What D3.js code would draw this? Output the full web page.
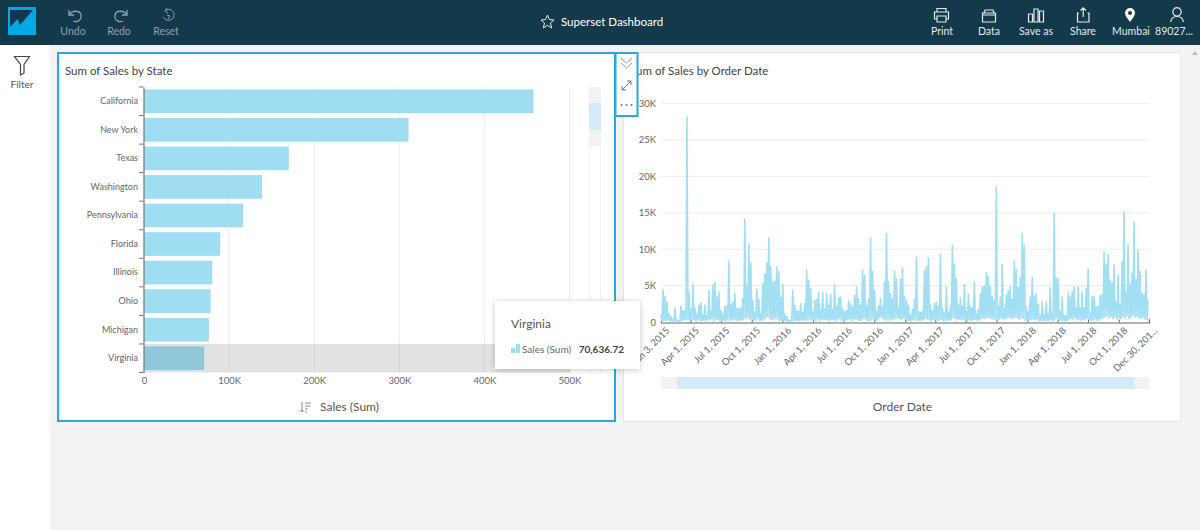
<!DOCTYPE html>
<html>
<head>
<meta charset="utf-8">
<script src="https://d3js.org/d3.v7.min.js"></script>
<style>
    html, body { margin: 0; padding: 0; background: #f3f3f3; overflow: hidden; }
    text { font-family: Lato, "Open Sans", sans-serif; }
</style>
</head>
<body>
<div id="chart-container"></div>
<script>
// Bar chart data
const states = ["California", "New York", "Texas", "Washington", "Pennsylvania", "Florida", "Illinois", "Ohio", "Michigan", "Virginia"];
const stateSales = [457688, 310876, 170188, 138641, 116512, 89474, 80166, 78258, 76270, 70637];
const salesTicks = [0, 100000, 200000, 300000, 400000, 500000];
const hoveredState = "Virginia";

// Line chart data, sales in thousands: a peak then a trough, running along the axis
const salesPeaksK = [
    1.0,4.5,3.6,2.8,1.2,.8,.4,2.0,.3,.2,2.2,1.6,1.6,28.2,4.2,1.8,5.3,2.0,1.2,2.4,
    2.7,1.0,2.4,1.0,4.4,1.6,5.2,5.5,3.5,4.2,1.6,1.2,2.2,2.3,8.4,2.5,2.8,4.0,1.9,1.9,
    2.0,3.3,14.2,5.0,10.7,8.2,3.0,1.5,4.6,3.2,1.2,5.4,6.7,8.2,11.6,7.7,5.6,5.7,7.7,7.0,
    3.5,5.3,
    1.2,.8,.3,.3,4.4,2.4,1.6,1.5,2.6,1.4,2.6,7.2,5.8,4.7,1.5,3.0,3.2,4.2,1.8,4.1,
    1.9,4.0,2.4,3.9,1.8,5.2,2.2,3.4,3.5,1.8,1.5,1.6,3.0,2.6,2.2,3.7,4.9,3.3,2.4,7.2,
    6.5,2.3,3.2,11.6,7.0,4.4,1.5,2.3,3.3,2.2,5.6,12.2,5.6,4.0,3.3,7.1,6.0,1.9,6.0,7.5,
    3.6,3.0,
    2.4,1.0,1.8,3.2,9.0,1.5,1.4,1.6,7.2,7.7,8.9,2.5,1.6,2.6,2.8,2.2,9.4,2.0,1.3,4.9,
    1.4,2.2,10.6,8.0,6.0,2.4,3.4,2.2,5.2,1.5,3.9,2.2,2.0,5.6,1.2,1.8,4.0,4.9,5.0,6.9,
    6.4,5.0,3.6,3.0,18.6,2.2,3.5,8.0,2.0,3.8,4.4,5.0,3.2,8.4,7.3,4.8,6.2,12.2,10.6,2.2,
    1.5,3.5,6.2,
    3.6,3.9,2.5,1.0,2.9,1.0,2.8,1.3,4.8,1.3,15.0,6.0,6.1,1.5,3.5,1.0,.9,4.2,3.5,4.3,
    4.9,2.0,4.9,2.0,4.2,2.0,4.7,7.3,1.3,3.6,3.5,2.2,2.2,3.7,3.8,9.7,8.0,9.3,5.8,5.5,
    7.9,2.8,6.5,2.5,8.3,15.2,4.2,10.8,5.3,6.8,13.8,5.9,10.0,7.0,4.0,3.8,7.2,3.0
];
const salesTroughsK = [
    .1,.1,.1,.2,.1,.1,.0,.1,.0,.0,.1,.2,.3,.2,.1,.3,.2,.1,.3,.1,
    .1,.2,.1,.3,.2,.4,.1,.3,.2,.1,.1,.2,.1,.3,.1,.2,.3,.2,.1,.2,
    .2,.3,.4,.6,.3,.2,.1,.2,.4,.1,.1,.3,.5,.7,.4,.3,.2,.5,.3,.1,
    .2,.1,
    .1,.0,.0,.0,.1,.1,.2,.1,.2,.1,.3,.2,.2,.3,.2,.1,.3,.1,.3,.2,
    .3,.2,.1,.3,.2,.1,.3,.4,.1,.1,.2,.2,.3,.1,.3,.3,.2,.1,.2,.4,
    .3,.1,.1,.2,.3,.1,.2,.5,.6,.3,.1,.3,.1,.3,.2,.4,.5,.4,.2,.5,
    .3,.1,
    .1,.1,.2,.3,.1,.2,.1,.3,.4,.3,.2,.1,.3,.3,.2,.1,.3,.1,.1,.2,
    .1,.3,.5,.4,.2,.3,.2,.3,.1,.1,.2,.1,.2,.3,.1,.2,.4,.5,.4,.6,
    .5,.4,.3,.3,.2,.3,.5,.2,.4,.5,.6,.4,.5,.6,.5,.3,.5,.4,.1,.1,
    .2,.3,.3,
    .2,.3,.1,.1,.2,.1,.2,.1,.3,.1,.3,.4,.2,.1,.2,.1,.1,.3,.4,.3,
    .5,.2,.3,.1,.3,.2,.4,.3,.1,.2,.3,.1,.2,.4,.5,.6,.8,.5,.7,.4,
    .6,.3,.5,.4,.7,.5,.8,.4,.6,.9,.6,.7,.5,.4,.6,.3,.2
];
const dateStart = new Date(2015, 0, 3);
const dateEnd = new Date(2018, 11, 30);
const quarterDates = [
    new Date(2015, 0, 3), new Date(2015, 3, 1), new Date(2015, 6, 1), new Date(2015, 9, 1),
    new Date(2016, 0, 1), new Date(2016, 3, 1), new Date(2016, 6, 1), new Date(2016, 9, 1),
    new Date(2017, 0, 1), new Date(2017, 3, 1), new Date(2017, 6, 1), new Date(2017, 9, 1),
    new Date(2018, 0, 1), new Date(2018, 3, 1), new Date(2018, 6, 1), new Date(2018, 9, 1),
    new Date(2018, 11, 30)
];
const quarterLabels = [
    "Jan 3, 2015", "Apr 1, 2015", "Jul 1, 2015", "Oct 1, 2015",
    "Jan 1, 2016", "Apr 1, 2016", "Jul 1, 2016", "Oct 1, 2016",
    "Jan 1, 2017", "Apr 1, 2017", "Jul 1, 2017", "Oct 1, 2017",
    "Jan 1, 2018", "Apr 1, 2018", "Jul 1, 2018", "Oct 1, 2018",
    "Dec 30, 201..."
];
const salesKTicks = [0, 5, 10, 15, 20, 25, 30];

// Colours
const NAVY = "#133a4b";
const BLUE = "#2ba6de";
const BAR = "#9fdef2";
const BAR_HOVER = "#90c8d9";
const GRID = "#ececec";
const TEXT = "#555";
const TICK_TEXT = "#666";

const svg = d3.select("#chart-container")
    .append("svg")
        .attr("width", 1200)
        .attr("height", 530)
        .style("display", "block");

function label(parent, x, y, str, size, fill, anchor = "start", weight = 400) {
    return parent.append("text")
        .attr("x", x)
        .attr("y", y)
        .attr("text-anchor", anchor)
        .attr("font-size", size)
        .attr("font-weight", weight)
        .attr("fill", fill)
        .text(str);
}

// stroke-only icon, paths are relative to the icon's top left
function icon(parent, x, y, d, stroke, width = 1.2) {
    return parent.append("path")
        .attr("transform", `translate(${x},${y})`)
        .attr("d", d)
        .attr("fill", "none")
        .attr("stroke", stroke)
        .attr("stroke-width", width);
}

// - - Page Chrome - -
function drawChrome() {
    svg.append("rect").attr("width", 1200).attr("height", 530).attr("fill", "#f3f3f3");
    svg.append("rect").attr("y", 45).attr("width", 50).attr("height", 485).attr("fill", "#fff");
    svg.append("rect").attr("width", 1200).attr("height", 45).attr("fill", NAVY);

    // Logo
    svg.append("rect").attr("x", 8).attr("y", 7).attr("width", 28).attr("height", 28).attr("fill", "#00a8e6");
    svg.append("path").attr("d", "M10,10 H33 L20,25 L17.5,19 L10,27 Z").attr("fill", NAVY);

    const dim = "#8fa1ab";
    const lit = "#e4e9ec";
    icon(svg, 66, 7, "M3,3 V8 H8 M3,8 C6,3 14,3 15,8 C16,13 11,16 7,14", dim, 1.3);
    icon(svg, 112, 7, "M15,3 V8 H10 M15,8 C12,3 4,3 3,8 C2,13 7,16 11,14", dim, 1.3);
    icon(svg, 160, 7, "M5,4 C9,0 15,4 14,9 C13,14 6,15 3,10 M7,1 L5,4 L8,6 M7,8 L10,9 L8,12", dim, 1);
    label(svg, 73, 35, "Undo", 10.5, dim, "middle");
    label(svg, 119, 35, "Redo", 10.5, dim, "middle");
    label(svg, 166, 35, "Reset", 10.5, dim, "middle");

    // Dashboard title
    icon(svg, 541, 15, "M6.5,0 L8.4,4.6 L13,5 L9.5,8 L10.6,13 L6.5,10.3 L2.4,13 L3.5,8 L0,5 L4.6,4.6 Z", lit, 1);
    label(svg, 561, 25.5, "Superset Dashboard", 11.5, "#fff");

    // Right side actions
    icon(svg, 934, 8, "M3,4 V0.5 H12 V4 M3,11 H0.5 V4 H14.5 V11 H12 M3,8 H12 V14 H3 Z", lit);
    icon(svg, 982, 9, "M2,4 L3,1 H11 L12,4 M0.5,4 H13.5 V13 H0.5 Z M0.5,6 H13.5", lit);
    icon(svg, 1028, 8, "M0.5,6 H4.5 V14 H0.5 Z M6,1 H10 V14 H6 Z M11.5,3 H15.5 V14 H11.5 Z", lit);
    icon(svg, 1077, 7, "M2,6 H0.5 V15 H12 V6 H10.5 M6.2,10 V1 M3.5,3.5 L6.2,0.8 L9,3.5", lit);
    svg.append("path")
        .attr("transform", "translate(1125,8)")
        .attr("d", "M5,0 A5,5 0 0 1 10,5 C10,8 7,11 5,14 C3,11 0,8 0,5 A5,5 0 0 1 5,0 Z M5,3 A2,2 0 1 0 5,7 A2,2 0 1 0 5,3 Z")
        .attr("fill", "#fff")
        .attr("fill-rule", "evenodd");
    icon(svg, 1170, 7, "M7,0.7 A4.2,4.2 0 1 1 6.99,0.7 M0.7,15 C1,11 4,9.5 7,9.5 C10,9.5 13,11 13.3,15", lit);
    [["Print", 942], ["Data", 989], ["Save as", 1036], ["Share", 1083], ["Mumbai", 1131], ["89027...", 1174]]
        .forEach(([str, x]) => label(svg, x, 35, str, 10.5, lit, "middle"));

    // Filter rail
    icon(svg, 14, 56, "M0.5,0.5 H15.5 L10,8.5 V17 L6.5,19 V8.5 Z", "#444", 1.2);
    label(svg, 22, 88, "Filter", 10, TEXT, "middle");

    // Page scrollbar arrow
    svg.append("path").attr("d", "M1195,51 L1198,55 H1192 Z").attr("fill", "#bbb");
}

// - - Bar Chart - -
function drawBars() {
    svg.append("rect")
        .attr("x", 58).attr("y", 53).attr("width", 557).attr("height", 368)
        .attr("fill", "#fff").attr("stroke", BLUE).attr("stroke-width", 2);

    label(svg, 65, 75, "Sum of Sales by State", 11.5, "#444");

    const plot = svg.append("g");
    const x = d3.scaleLinear().domain([0, 500000]).range([144, 569.5]);
    const y = d3.scaleBand().domain(states).range([87, 372.5]).paddingInner(0.17).paddingOuter(0.085);
    const step = y.step();

    // Hover band sits under the grid
    plot.append("rect")
        .attr("x", x(0))
        .attr("y", y(hoveredState) - step * 0.085)
        .attr("width", x(500000) - x(0))
        .attr("height", step)
        .attr("fill", "#e2e2e2");

    plot.selectAll(".grid")
        .data(salesTicks.slice(1))
        .enter()
        .append("line")
            .attr("class", "grid")
            .attr("x1", d => x(d)).attr("x2", d => x(d))
            .attr("y1", 87).attr("y2", 372.5)
            .attr("stroke", GRID);
    plot.selectAll(".grid-hover")
        .data(salesTicks.slice(1))
        .enter()
        .append("line")
            .attr("class", "grid-hover")
            .attr("x1", d => x(d)).attr("x2", d => x(d))
            .attr("y1", y(hoveredState) - step * 0.085).attr("y2", 372.5)
            .attr("stroke", "#d2d2d2");

    plot.selectAll(".bar")
        .data(states)
        .enter()
        .append("rect")
            .attr("class", "bar")
            .attr("x", x(0))
            .attr("y", d => y(d))
            .attr("width", (d, i) => x(stateSales[i]) - x(0))
            .attr("height", y.bandwidth())
            .attr("fill", d => d === hoveredState ? BAR_HOVER : BAR);

    // Axes
    const xAxis = plot.append("g")
        .attr("transform", "translate(0,372.5)")
        .call(d3.axisBottom(x).tickValues(salesTicks).tickSize(0).tickPadding(5)
            .tickFormat(d => d === 0 ? "0" : `${d / 1000}K`));
    xAxis.attr("font-family", null);
    xAxis.select(".domain").remove();
    xAxis.selectAll("text").attr("font-size", 9.5).attr("fill", TICK_TEXT);

    const yAxis = plot.append("g")
        .attr("transform", "translate(143.5,0)")
        .call(d3.axisLeft(y).tickSize(0).tickPadding(5.5));
    yAxis.attr("font-family", null);
    yAxis.select(".domain").attr("stroke", "#777").attr("stroke-width", 1.2);
    yAxis.selectAll("text").attr("font-size", 9).attr("fill", TICK_TEXT);

    plot.selectAll(".bracket")
        .data(d3.range(states.length + 1))
        .enter()
        .append("line")
            .attr("class", "bracket")
            .attr("x1", 139).attr("x2", 143.5)
            .attr("y1", d => 87 + d * step).attr("y2", d => 87 + d * step)
            .attr("stroke", "#777");

    // Scroll strip at the right of the plot
    [590, 600.5].forEach(px => {
        plot.append("line").attr("x1", px).attr("x2", px).attr("y1", 87).attr("y2", 372.5).attr("stroke", "#f0f0f0");
    });
    plot.append("rect").attr("x", 589).attr("y", 87).attr("width", 12).attr("height", 59).attr("fill", "#f2f2f2");
    plot.append("rect").attr("x", 589).attr("y", 103).attr("width", 12).attr("height", 27).attr("fill", "#d3ebf8");

    // Axis title with sort icon
    icon(svg, 300, 402, "M2,0 V10 M0.5,8 L2,10 L3.5,8 M5,1 H11 M5,4 H10 M5,7 H8 M5,10 H6.5", "#888", 1);
    label(svg, 320, 411, "Sales (Sum)", 12, TEXT);
}

// - - Line Chart - -
function drawLine() {
    svg.append("rect")
        .attr("x", 623.5).attr("y", 52.5).attr("width", 557).attr("height", 368.5)
        .attr("fill", "#fff").attr("stroke", "#e6e6e6");

    label(svg, 630, 75, "Sum of Sales by Order Date", 11.5, "#444");

    const x = d3.scaleTime().domain([dateStart, dateEnd]).range([661, 1149]);
    const y = d3.scaleLinear().domain([0, 30]).range([322, 103.5]);

    const plot = svg.append("g");
    plot.selectAll(".grid")
        .data(salesKTicks.slice(1))
        .enter()
        .append("line")
            .attr("class", "grid")
            .attr("x1", 661).attr("x2", 1149)
            .attr("y1", d => y(d)).attr("y2", d => y(d))
            .attr("stroke", GRID);

    const yAxis = plot.append("g")
        .attr("transform", "translate(661,0)")
        .call(d3.axisLeft(y).tickValues(salesKTicks).tickSize(0).tickPadding(5)
            .tickFormat(d => d === 0 ? "0" : `${d}K`));
    yAxis.attr("font-family", null);
    yAxis.select(".domain").remove();
    yAxis.selectAll("text").attr("font-size", 9.5).attr("fill", TICK_TEXT);

    const xAxis = plot.append("g")
        .attr("transform", "translate(0,322.5)")
        .call(d3.axisBottom(x).tickValues(quarterDates).tickSize(-3)
            .tickFormat((d, i) => quarterLabels[i]));
    xAxis.attr("font-family", null);
    xAxis.select(".domain").attr("stroke", "#666").attr("stroke-width", 1.2);
    xAxis.selectAll("line").attr("stroke", "#666");
    xAxis.selectAll("text")
        .attr("font-size", 9.5)
        .attr("fill", TICK_TEXT)
        .attr("text-anchor", "end")
        .attr("transform", "rotate(-45)")
        .attr("x", 0)
        .attr("y", 9)
        .attr("dy", "0.35em");

    // Peaks and troughs alternate along the line
    const values = d3.merge(salesPeaksK.map((d, i) => [d, salesTroughsK[i]]));
    const span = dateEnd - dateStart;
    const points = values.map((d, i) => ({
        date: new Date(+dateStart + span * i / (values.length - 1)),
        value: d
    }));

    const line = d3.line().x(d => x(d.date)).y(d => y(d.value));
    plot.append("path")
        .datum(points)
        .attr("d", line)
        .attr("fill", "none")
        .attr("stroke", "#a3dff3")
        .attr("stroke-width", 1.6)
        .attr("stroke-linejoin", "bevel");

    // Date range slider
    plot.append("rect").attr("x", 661).attr("y", 377).attr("width", 488).attr("height", 12).attr("fill", "#f2f2f2");
    plot.append("rect").attr("x", 677).attr("y", 377).attr("width", 457).attr("height", 12).attr("fill", "#d3ebf8");

    label(svg, 902.5, 411, "Order Date", 12, TEXT, "middle");
}

// - - Overlays - -
function drawOverlays() {
    // Chart action buttons
    svg.append("rect")
        .attr("x", 615.5).attr("y", 53).attr("width", 22).attr("height", 63)
        .attr("fill", "#fff").attr("stroke", BLUE).attr("stroke-width", 2);
    icon(svg, 621, 58, "M0,0 L5.5,5 L11,0 M0,5 L5.5,10 L11,5", "#999", 1);
    icon(svg, 622, 81, "M0,9 L9,0 M5,0 H9 V4 M0,5 V9 H4", "#777", 1);
    [621.5, 626.5, 631.5].forEach(cx => {
        svg.append("circle").attr("cx", cx).attr("cy", 105).attr("r", 1).attr("fill", "#777");
    });

    // Tooltip
    const shadow = svg.append("defs").append("filter").attr("id", "tip-shadow")
        .attr("x", "-10%").attr("y", "-10%").attr("width", "120%").attr("height", "130%");
    shadow.append("feDropShadow")
        .attr("dx", 0).attr("dy", 1).attr("stdDeviation", 3)
        .attr("flood-color", "#000").attr("flood-opacity", 0.22);
    svg.append("rect")
        .attr("x", 495).attr("y", 301).attr("width", 145).attr("height", 68)
        .attr("fill", "#fff").attr("filter", "url(#tip-shadow)");
    label(svg, 511, 328, hoveredState, 12, TEXT);
    svg.append("rect").attr("x", 511).attr("y", 348).attr("width", 4).attr("height", 5).attr("fill", BAR);
    svg.append("rect").attr("x", 516).attr("y", 344).attr("width", 4).attr("height", 9).attr("fill", BAR);
    label(svg, 522, 353, "Sales (Sum)", 10, TICK_TEXT);
    label(svg, 624, 353, d3.format(",.2f")(70636.72), 10, "#444", "end", 700);
}

drawChrome();
drawBars();
drawLine();
drawOverlays();
</script>
</body>
</html>
